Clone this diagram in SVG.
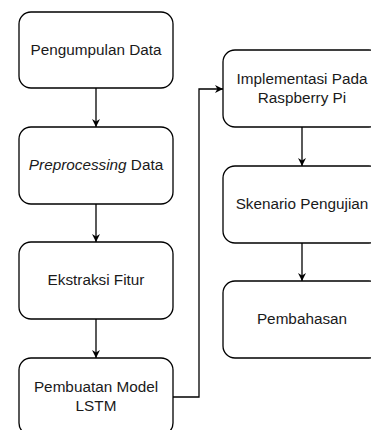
<svg xmlns="http://www.w3.org/2000/svg" width="371" height="430" viewBox="0 0 371 430">
<defs>
<marker id="ah" viewBox="0 0 10 10" refX="10" refY="5" markerWidth="8" markerHeight="8" markerUnits="userSpaceOnUse" orient="auto">
<path d="M0,0 L10,5 L0,10 L3,5 Z" fill="#000"/>
</marker>
<style>
.box{fill:#fff;stroke:#000;stroke-width:1.3}
.lbl{font-family:"Liberation Sans",Arial,sans-serif;font-size:15.3px;fill:#1a1a1a;text-anchor:middle}
.con{fill:none;stroke:#000;stroke-width:1.3}
</style>
</defs>
<rect width="371" height="430" fill="#fff"/>
<g id="connectors">
<path class="con" d="M96,88 L96,127" marker-end="url(#ah)"/>
<path class="con" d="M96,204 L96,242" marker-end="url(#ah)"/>
<path class="con" d="M96,319 L96,358" marker-end="url(#ah)"/>
<path class="con" d="M173,397 L199,397 L199,89 L223,89" marker-end="url(#ah)"/>
<path class="con" d="M302,127 L302,166" marker-end="url(#ah)"/>
<path class="con" d="M302,243 L302,281" marker-end="url(#ah)"/>
</g>
<g id="n1"><rect class="box" x="19" y="12" width="154" height="76" rx="12"/><text class="lbl" x="96" y="54.5">Pengumpulan Data</text></g>
<g id="n2"><rect class="box" x="19" y="127" width="154" height="77" rx="12"/><text class="lbl" x="96" y="170"><tspan font-style="italic">Preprocessing</tspan> Data</text></g>
<g id="n3"><rect class="box" x="19" y="242" width="154" height="77" rx="12"/><text class="lbl" x="96" y="285">Ekstraksi Fitur</text></g>
<g id="n4"><rect class="box" x="19" y="358" width="154" height="77" rx="12"/><text class="lbl" x="96" y="392">Pembuatan Model</text><text class="lbl" x="96" y="411">LSTM</text></g>
<g id="n5"><rect class="box" x="223" y="50" width="158" height="77" rx="12"/><text class="lbl" x="302" y="84">Implementasi Pada</text><text class="lbl" x="302" y="103">Raspberry Pi</text></g>
<g id="n6"><rect class="box" x="223" y="166" width="158" height="77" rx="12"/><text class="lbl" x="302" y="209">Skenario Pengujian</text></g>
<g id="n7"><rect class="box" x="223" y="281" width="158" height="77" rx="12"/><text class="lbl" x="302" y="324">Pembahasan</text></g>
</svg>
